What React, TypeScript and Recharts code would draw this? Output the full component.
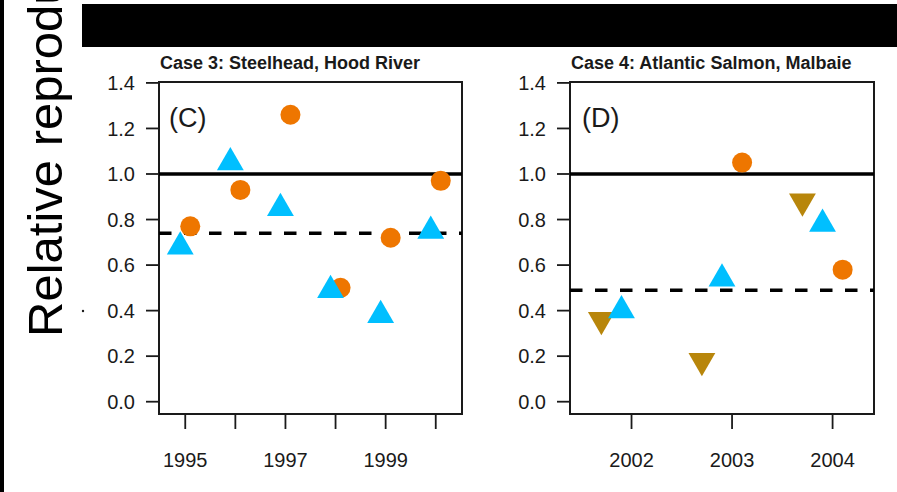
import { ScatterChart, Scatter, XAxis, YAxis, ReferenceLine, ReferenceArea } from "recharts";

// --- data -------------------------------------------------------------
const Y_TICKS = [0, 0.2, 0.4, 0.6, 0.8, 1.0, 1.2, 1.4];

// Case 3: Steelhead, Hood River
const YEARS_C = [1995, 1996, 1997, 1998, 1999, 2000];
const LABELED_YEARS_C = [1995, 1997, 1999];
const CIRCLES_C = [0.77, 0.93, 1.26, 0.5, 0.72, 0.97];
const UP_TRI_C = [0.68, 1.05, 0.85, 0.49, 0.38, 0.75];
const MEAN_C = 0.74;

// Case 4: Atlantic Salmon, Malbaie
const YEARS_D = [2002, 2003, 2004];
const LABELED_YEARS_D = [2002, 2003, 2004];
const CIRCLES_D: (number | null)[] = [null, 1.05, 0.58];
const UP_TRI_D = [0.4, 0.54, 0.78];
const DOWN_TRI_D = [0.36, 0.18, 0.88];
const MEAN_D = 0.49;

// horizontal dodge of each symbol around its year
const DODGE_CIRCLE = 0.1;
const DODGE_UP = -0.1;
const DODGE_DOWN = -0.3;

// --- style ------------------------------------------------------------
const FONT = '"Liberation Sans", Arial, Helvetica, sans-serif';
const INK = "#1a1a1a";
const ORANGE = "#EE7600";
const BLUE = "#00BFFF";
const GOLD = "#B8860B";
const Y_DOMAIN: [number, number] = [-0.054, 1.404];

const TRI_R = 15.5;
const TRI_HALF = (TRI_R * Math.sqrt(3)) / 2;

const toPoints = (years: number[], vals: (number | null)[], dodge: number) =>
  years
    .map((yr, i) => ({ x: yr + dodge, y: vals[i] }))
    .filter(d => d.y != null);

const Dot = ({ cx, cy }: any) => <circle cx={cx} cy={cy} r={10} fill={ORANGE} />;

const TriUp = ({ cx, cy }: any) => (
  <polygon
    points={`${cx},${cy - TRI_R} ${cx + TRI_HALF},${cy + TRI_R / 2} ${cx - TRI_HALF},${cy + TRI_R / 2}`}
    fill={BLUE}
  />
);

const TriDown = ({ cx, cy }: any) => (
  <polygon
    points={`${cx},${cy + TRI_R} ${cx + TRI_HALF},${cy - TRI_R / 2} ${cx - TRI_HALF},${cy - TRI_R / 2}`}
    fill={GOLD}
  />
);

const YTick = ({ x, y, payload }: any) => (
  <text x={x} y={y} dy="0.36em" textAnchor="end" fontSize={20} fontFamily={FONT} fill={INK}>
    {Number(payload.value).toFixed(1)}
  </text>
);

const makeXTick = (labeled: number[]) => ({ x, y, payload }: any) =>
  labeled.includes(payload.value) ? (
    <text x={x} y={y} dy="0.72em" textAnchor="middle" fontSize={20} fontFamily={FONT} fill={INK}>
      {payload.value}
    </text>
  ) : (
    <g />
  );

interface PanelProps {
  left: number;
  width: number;
  margin: { top: number; right: number; bottom: number; left: number };
  xDomain: [number, number];
  years: number[];
  labeled: number[];
  mean: number;
  series: { data: { x: number; y: number | null }[]; shape: any }[];
}

function Panel({ left, width, margin, xDomain, years, labeled, mean, series }: PanelProps) {
  return (
    <div style={{ position: "absolute", left, top: 0 }}>
      <ScatterChart width={width} height={492} margin={margin}>
        <XAxis
          type="number"
          dataKey="x"
          domain={xDomain}
          ticks={years}
          allowDataOverflow
          axisLine={false}
          tickSize={15}
          tickMargin={24}
          tickLine={{ stroke: INK, strokeWidth: 1.8 }}
          tick={makeXTick(labeled)}
          interval={0}
          height={60}
        />
        <YAxis
          type="number"
          dataKey="y"
          domain={Y_DOMAIN}
          ticks={Y_TICKS}
          allowDataOverflow
          axisLine={false}
          tickSize={13}
          tickMargin={11}
          tickLine={{ stroke: INK, strokeWidth: 1.8 }}
          tick={<YTick />}
          interval={0}
          width={70}
        />
        <ReferenceLine y={1} stroke="#000" strokeWidth={3.5} />
        <ReferenceLine y={mean} stroke="#000" strokeWidth={3.5} strokeDasharray="12.5 12.5" />
        {series.map((s, i) => (
          <Scatter key={i} data={s.data} shape={s.shape} isAnimationActive={false} />
        ))}
        <ReferenceArea
          x1={xDomain[0]}
          x2={xDomain[1]}
          y1={Y_DOMAIN[0]}
          y2={Y_DOMAIN[1]}
          fill="none"
          fillOpacity={0}
          stroke={INK}
          strokeWidth={2}
        />
      </ScatterChart>
    </div>
  );
}

export default function App() {
  return (
    <div
      style={{
        position: "absolute",
        left: 0,
        top: 0,
        width: 897,
        height: 492,
        overflow: "hidden",
        background: "#fff",
        fontFamily: FONT,
      }}
    >
      <Panel
        left={0}
        width={470}
        margin={{ top: 82, right: 8, bottom: 18, left: 89 }}
        xDomain={[1994.476, 2000.524]}
        years={YEARS_C}
        labeled={LABELED_YEARS_C}
        mean={MEAN_C}
        series={[
          { data: toPoints(YEARS_C, CIRCLES_C, DODGE_CIRCLE), shape: Dot },
          { data: toPoints(YEARS_C, UP_TRI_C, DODGE_UP), shape: TriUp },
        ]}
      />
      <Panel
        left={470}
        width={427}
        margin={{ top: 82, right: 23, bottom: 18, left: 30 }}
        xDomain={[2001.388, 2004.412]}
        years={YEARS_D}
        labeled={LABELED_YEARS_D}
        mean={MEAN_D}
        series={[
          { data: toPoints(YEARS_D, CIRCLES_D, DODGE_CIRCLE), shape: Dot },
          { data: toPoints(YEARS_D, DOWN_TRI_D, DODGE_DOWN), shape: TriDown },
          { data: toPoints(YEARS_D, UP_TRI_D, DODGE_UP), shape: TriUp },
        ]}
      />

      {/* titles, panel letters and the shared y label */}
      <svg
        width={897}
        height={492}
        style={{ position: "absolute", left: 0, top: 0, pointerEvents: "none" }}
      >
        <text x={160} y={69} fontSize={18} fontWeight="bold" fill={INK} fontFamily={FONT}>
          Case 3: Steelhead, Hood River
        </text>
        <text x={571} y={69} fontSize={18} fontWeight="bold" fill={INK} fontFamily={FONT}>
          Case 4: Atlantic Salmon, Malbaie
        </text>
        <text x={169} y={127} fontSize={27} fill={INK} fontFamily={FONT}>
          (C)
        </text>
        <text x={582} y={127} fontSize={27} fill={INK} fontFamily={FONT}>
          (D)
        </text>
        <text
          x={0}
          y={0}
          transform="translate(62, 337) rotate(-90)"
          fontSize={49}
          fill="#000"
          fontFamily={FONT}
        >
          Relative reproductive success
        </text>
        <circle cx={83} cy={311} r={1.2} fill={INK} />
      </svg>

      {/* black bands along the top and left edges */}
      <div style={{ position: "absolute", left: 82, top: 4, width: 815, height: 43, background: "#000" }} />
      <div style={{ position: "absolute", left: 0, top: 0, width: 4, height: 492, background: "#000" }} />
    </div>
  );
}
